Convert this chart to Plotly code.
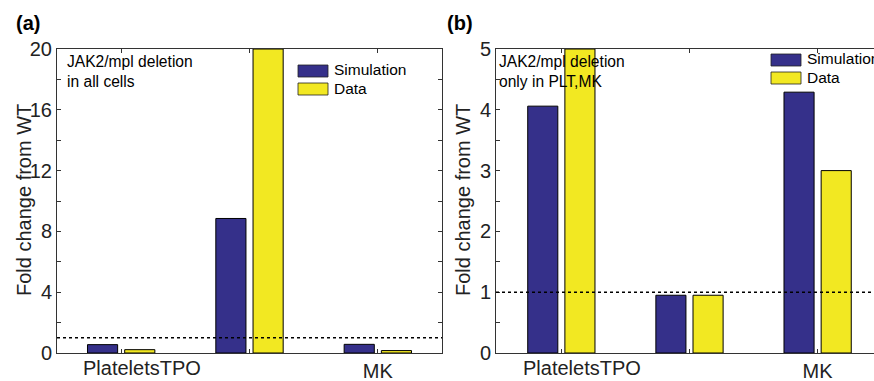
import plotly.graph_objects as go

# ---- data ----
groups = [1, 2, 3]
sim_a = [0.55, 8.85, 0.57]
data_a = [0.22, 20.0, 0.16]
sim_b = [4.06, 0.95, 4.29]
data_b = [5.0, 0.95, 3.0]
ref_level = 1.0
ytick_a = [0, 4, 8, 12, 16, 20]
ytick_b = [0, 1, 2, 3, 4, 5]
xlabel_first = "PlateletsTPO"
xlabel_last = "MK"
series_names = ["Simulation", "Data"]

BLUE = "#35308A"
YELLOW = "#F2E822"
FONT = "Liberation Sans, Arial, sans-serif"
W, H = 874, 381

def px_x(x):
    return x / W

def px_y(y):
    return (H - y) / H

fig = go.Figure()
for xa, ya, s, d in [("x", "y", sim_a, data_a), ("x2", "y2", sim_b, data_b)]:
    fig.add_trace(go.Bar(x=groups, y=s, name=series_names[0], xaxis=xa, yaxis=ya,
                         marker=dict(color=BLUE, line=dict(color="black", width=1)),
                         showlegend=False))
    fig.add_trace(go.Bar(x=groups, y=d, name=series_names[1], xaxis=xa, yaxis=ya,
                         marker=dict(color=YELLOW, line=dict(color="black", width=1)),
                         showlegend=False))

ydom = [px_y(353), px_y(49)]
axis_common = dict(showline=True, linecolor="#333", linewidth=1, ticks="inside",
                   ticklen=4, tickcolor="#333", showgrid=False, zeroline=False,
                   tickfont=dict(family=FONT, size=20, color="#222"))

fig.update_layout(
    width=W, height=H,
    margin=dict(l=0, r=0, t=0, b=0, autoexpand=False),
    paper_bgcolor="white", plot_bgcolor="white",
    barmode="group", bargap=0.42, bargroupgap=0.19,
    showlegend=False,
    xaxis=dict(domain=[px_x(57), px_x(442)], range=[0.5, 3.5], anchor="y",
               tickvals=groups, ticktext=["", "", xlabel_last], mirror="ticks",
               **axis_common),
    yaxis=dict(domain=ydom, range=[0, 20], anchor="x", tickvals=ytick_a,
               mirror="ticks",
               minor=dict(dtick=2, ticks="inside", ticklen=4, tickcolor="#333"),
               **axis_common),
    xaxis2=dict(domain=[px_x(496), 1.0], range=[0.49, 3.44], anchor="y2",
                tickvals=groups, ticktext=["", "", xlabel_last], mirror="ticks",
                **axis_common),
    yaxis2=dict(domain=ydom, range=[0, 5], anchor="x2", tickvals=ytick_b,
                mirror=False, ticksuffix="\u00a0",
                minor=dict(dtick=0.5, ticks="inside", ticklen=4, tickcolor="#333"),
                **axis_common),
)

shapes = []
# dotted reference lines
for xr, yr in [("x domain", "y"), ("x2 domain", "y2")]:
    shapes.append(dict(type="line", xref=xr, yref=yr, x0=0, x1=1, y0=ref_level, y1=ref_level,
                       line=dict(color="black", width=1.5, dash="dot")))

annotations = []
# manual legends
for (lx, ly1, ly2, tx) in [(298, 65, 83, 332), (771, 54, 72, 805)]:
    shapes.append(dict(type="rect", xref="paper", yref="paper",
                       x0=px_x(lx), x1=px_x(lx + 30), y0=px_y(ly1 + 12), y1=px_y(ly1),
                       fillcolor=BLUE, line=dict(color="#222", width=0.8)))
    shapes.append(dict(type="rect", xref="paper", yref="paper",
                       x0=px_x(lx), x1=px_x(lx + 30), y0=px_y(ly2 + 12), y1=px_y(ly2),
                       fillcolor=YELLOW, line=dict(color="#222", width=0.8)))
    annotations.append(dict(xref="paper", yref="paper", x=px_x(tx), y=px_y(ly1 + 5),
                            xanchor="left", yanchor="middle", showarrow=False,
                            text=series_names[0],
                            font=dict(family=FONT, size=15.5, color="black")))
    annotations.append(dict(xref="paper", yref="paper", x=px_x(tx), y=px_y(ly2 + 6),
                            xanchor="left", yanchor="middle", showarrow=False,
                            text=series_names[1],
                            font=dict(family=FONT, size=15.5, color="black")))

# panel labels
annotations.append(dict(xref="paper", yref="paper", x=px_x(14), y=px_y(23), xanchor="left",
                        yanchor="middle", showarrow=False, text="<b>(a)</b>",
                        font=dict(family=FONT, size=20, color="black")))
annotations.append(dict(xref="paper", yref="paper", x=px_x(445), y=px_y(23), xanchor="left",
                        yanchor="middle", showarrow=False, text="<b>(b)</b>",
                        font=dict(family=FONT, size=20, color="black")))
# panel notes
annotations.append(dict(xref="paper", yref="paper", x=px_x(65), y=px_y(51), xanchor="left",
                        yanchor="top", align="left", showarrow=False,
                        text="JAK2/mpl deletion<br>in all cells",
                        font=dict(family=FONT, size=15.6, color="black")))
annotations.append(dict(xref="paper", yref="paper", x=px_x(497), y=px_y(51), xanchor="left",
                        yanchor="top", align="left", showarrow=False,
                        text="JAK2/mpl deletion<br>only in PLT,MK",
                        font=dict(family=FONT, size=15.6, color="black")))
# y titles
for cx in [24, 463]:
    annotations.append(dict(xref="paper", yref="paper", x=px_x(cx), y=px_y(200),
                            xanchor="center", yanchor="middle", textangle=-90,
                            showarrow=False, text="Fold change from WT",
                            font=dict(family=FONT, size=20, color="#222")))
# first x label (offset to the right of its tick, as in the original)
for xr in ["x", "x2"]:
    annotations.append(dict(xref=xr, yref="paper", x=1.16, y=px_y(368),
                            xanchor="center", yanchor="middle", showarrow=False,
                            text=xlabel_first,
                            font=dict(family=FONT, size=20, color="#222")))

fig.update_layout(shapes=shapes, annotations=annotations)
fig.write_html("out.html")
